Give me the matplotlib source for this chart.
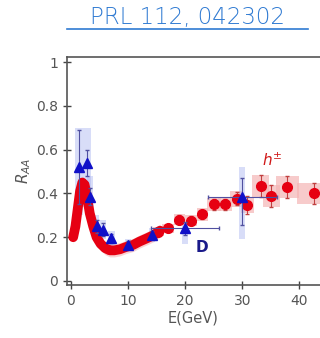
import matplotlib.pyplot as plt
import numpy as np
from matplotlib.patches import Rectangle

# red curve (dense low-E data)
curve_e = [0.4, 0.8, 1.2, 1.6, 2.0, 2.4, 2.8, 3.3, 3.9, 4.5, 5.2, 6.0, 6.8, 7.6, 8.6, 9.6, 10.9, 12.0, 13.3, 14.5, 15.6]
curve_r = [0.20, 0.25, 0.33, 0.41, 0.45, 0.44, 0.39, 0.31, 0.25, 0.20, 0.17, 0.15, 0.14, 0.14, 0.145, 0.155, 0.165, 0.18, 0.195, 0.21, 0.23]

# red h+- points at higher E
h_e = [15.3, 17.0, 19.0, 21.0, 23.0, 25.1, 27.0, 29.0, 30.9, 33.2, 35.1, 37.9, 42.5]
h_r = [0.225, 0.24, 0.28, 0.275, 0.305, 0.35, 0.35, 0.375, 0.347, 0.434, 0.39, 0.43, 0.40]
h_err = [0.015, 0.015, 0.02, 0.02, 0.02, 0.025, 0.025, 0.03, 0.04, 0.05, 0.05, 0.05, 0.05]
h_sys = [0.02, 0.02, 0.025, 0.025, 0.03, 0.03, 0.03, 0.035, 0.035, 0.05, 0.05, 0.05, 0.05]
h_w = [1.0, 1.0, 1.0, 1.0, 1.0, 1.2, 1.2, 1.2, 1.2, 1.5, 1.5, 2.0, 3.0]

# blue D points
d_e = [1.5, 2.8, 3.3, 4.5, 5.6, 7.1, 10.0, 14.2, 20.0, 30.0]
d_r = [0.52, 0.54, 0.385, 0.25, 0.235, 0.195, 0.165, 0.21, 0.24, 0.385]
d_up = [0.17, 0.06, 0.04, 0.03, 0.03, 0.02, 0.02, 0.02, 0.03, 0.085]
d_dn = [0.17, 0.06, 0.04, 0.03, 0.03, 0.02, 0.02, 0.02, 0.03, 0.13]
d_xerr = [0, 0, 0, 0, 0, 0, 0, 0, 6.0, 6.0]
d_sys_lo = [0.30, 0.34, 0.30, 0.20, 0.19, 0.16, 0.14, 0.18, 0.17, 0.19]
d_sys_hi = [0.70, 0.70, 0.48, 0.30, 0.28, 0.23, 0.19, 0.24, 0.265, 0.52]
d_w = [1.4, 1.4, 1.0, 1.0, 1.0, 1.1, 1.2, 1.2, 1.0, 1.0]

fig = plt.figure(figsize=(3.2, 3.38), dpi=100)
ax = fig.add_axes([0.209, 0.157, 0.791, 0.674])

# pink systematic boxes
for e, r, s, w in zip(h_e, h_r, h_sys, h_w):
    ax.add_patch(Rectangle((e - w, r - s), 2 * w, 2 * s, color='#f5b5b5', alpha=0.7, lw=0, zorder=1))
ax.fill_between(curve_e, np.array(curve_r) - 0.03, np.array(curve_r) + 0.03, color='#f5b5b5', alpha=0.6, lw=0, zorder=1)

# blue systematic boxes
for e, lo, hi, w in zip(d_e, d_sys_lo, d_sys_hi, d_w):
    ax.add_patch(Rectangle((e - w / 2, lo), w, hi - lo, color='#aab4f0', alpha=0.45, lw=0, zorder=2))

ax.plot(curve_e, curve_r, color='#e60012', lw=7, solid_capstyle='round', zorder=3)
ax.errorbar(h_e, h_r, yerr=h_err, fmt='o', color='#e60012', ms=7, ecolor='#c04040', elinewidth=0.8, capsize=1.5, zorder=4)
ax.errorbar(d_e, d_r, yerr=[d_dn, d_up], xerr=d_xerr, fmt='^', color='#1010c8', ms=6.5, ecolor='#5050a0', elinewidth=0.8, capsize=1.5, zorder=5)

ax.text(35.3, 0.55, r'$h^{\pm}$', color='#d01818', fontsize=11, style='italic', ha='center', va='center')
ax.text(23.0, 0.155, 'D', color='#1a1a8a', fontsize=11, fontweight='bold', ha='center', va='center')

ax.set_xlim(-0.7, 43.6)
ax.set_ylim(-0.018, 1.023)
ax.set_xticks([0, 10, 20, 30, 40])
ax.set_yticks([0, 0.2, 0.4, 0.6, 0.8, 1])
ax.set_yticklabels(['0', '0.2', '0.4', '0.6', '0.8', '1'])
ax.tick_params(direction='inout', length=6, width=1, colors='#444444', labelcolor='#555555', labelsize=10)
ax.spines['right'].set_visible(False)
for s in ['left', 'bottom', 'top']:
    ax.spines[s].set_color('#555555')
    ax.spines[s].set_linewidth(1.2)
ax.set_xlabel('E(GeV)', color='#555555', fontsize=10.5, labelpad=2)
ax.set_ylabel(r'$R_{AA}$', color='#555555', fontsize=11, labelpad=2)

fig.text(0.586, 0.948, 'PRL 112, 042302', color='#2f7ad2', fontsize=16.5, ha='center', va='center', family='DejaVu Sans', fontweight='light')
fig.add_artist(plt.Line2D([0.21, 0.962], [0.913, 0.913], color='#2f7ad2', lw=1.2))

fig.savefig('out.png', dpi=100)
